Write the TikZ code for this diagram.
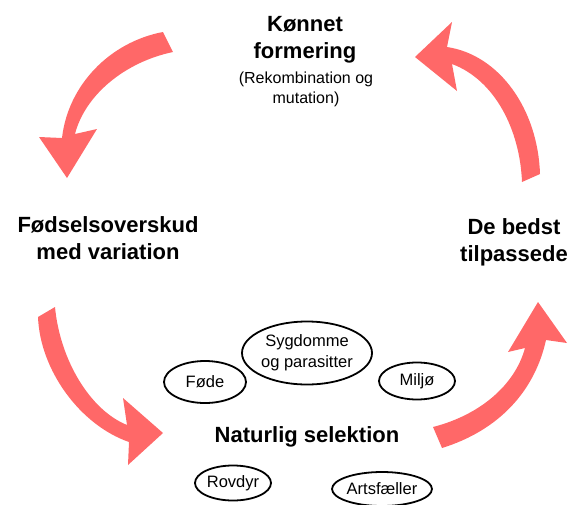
\documentclass[tikz,border=0pt]{standalone}
\usepackage{fontspec}
\setmainfont{Liberation Sans}
\usetikzlibrary{shapes.geometric}
\definecolor{arrowred}{RGB}{255,104,104}
\begin{document}
\begin{tikzpicture}[x=1pt,y=-1pt,
  bigarrow/.style={fill=arrowred,draw=none},
  headtxt/.style={align=center,inner sep=0pt,font=\fontsize{22}{27}\selectfont\bfseries},
  subtxt/.style={align=center,inner sep=0pt,font=\fontsize{16}{20}\selectfont},
  factor/.style={ellipse,draw=black,line width=1.8pt,inner sep=0pt,align=center,font=\fontsize{16.5}{21}\selectfont}]
\useasboundingbox (0,0) rectangle (579,504);
% arrows
\fill[bigarrow] (163,32) .. controls (110,42) and (68,85) .. (62,138) -- (39,137) -- (67,178) -- (97,129) -- (75,134) .. controls (85,95) and (125,62) .. (173,52) -- cycle;
\fill[bigarrow] (415,57) -- (452,22) -- (447,47) .. controls (500,55) and (538,110) .. (540,174) -- (522,182) .. controls (520,130) and (495,80) .. (452,64) -- (457,91) -- cycle;
\fill[bigarrow] (38,317) .. controls (40,370) and (80,425) .. (129,442) -- (128,465) -- (163,433) -- (123,398) -- (127,425) .. controls (90,410) and (60,360) .. (55,307) -- cycle;
\fill[bigarrow] (442,448) .. controls (500,430) and (535,390) .. (546,340) -- (567,343) -- (538,302) -- (508,352) -- (525,348) .. controls (515,385) and (480,415) .. (433,427) -- cycle;
% texts
\node[headtxt] (kf) at (305,40) {Kønnet\\formering};
\node[subtxt] (rm) at (306,89) {(Rekombination og\\mutation)};
\node[headtxt] (fv) at (108,238) {Fødselsoverskud\\med variation};
\node[headtxt] (bt) at (514,242) {De bedst\\tilpassede};
\node[headtxt] (ns) at (307,437) {Naturlig selektion};
% factors
\node[factor,minimum width=130pt,minimum height=63pt] (syg) at (307,353) {Sygdomme\\og parasitter};
\node[factor,minimum width=82pt,minimum height=42pt] (fode) at (205,382) {Føde};
\node[factor,minimum width=76pt,minimum height=37pt] (miljo) at (417,381) {Miljø};
\node[factor,minimum width=76pt,minimum height=35pt] (rov) at (233,483) {Rovdyr};
\node[factor,minimum width=100pt,minimum height=34pt] (art) at (382,489) {Artsfæller};
\end{tikzpicture}
\end{document}
